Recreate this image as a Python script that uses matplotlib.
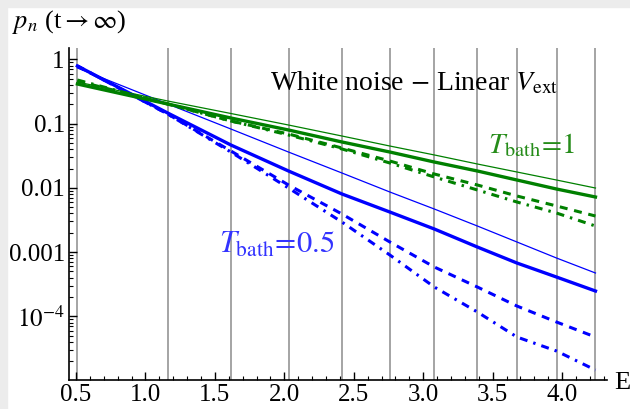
import matplotlib
matplotlib.use("Agg")
import matplotlib.pyplot as plt
from matplotlib.ticker import FixedLocator, NullFormatter, LogLocator
from matplotlib.patches import Rectangle

plt.rcParams['font.family'] = ['Liberation Serif', 'DejaVu Serif']
plt.rcParams['mathtext.fontset'] = 'stix'

# Energy levels (vertical lines and sample points)
energies = [0.51, 1.16, 1.615, 2.03, 2.415, 2.76, 3.08, 3.39, 3.675, 3.96, 4.24]

# T_bath = 0.5 (blue)
blue_thin = [0.737, 0.203, 0.0827, 0.0362, 0.01706, 0.00863, 0.00469, 0.00255, 0.001437, 8.09e-4, 4.73e-4]
blue_thick = [0.792, 0.1468, 0.0466, 0.01834, 0.00804, 0.00421, 0.00229, 0.0012, 6.76e-4, 4.09e-4, 2.48e-4]
blue_dashed = [0.792, 0.1416, 0.0376, 0.0111, 0.00392, 0.001437, 5.86e-4, 2.86e-4, 1.446e-4, 8.15e-5, 4.76e-5]
blue_dashdot = [0.792, 0.1416, 0.0362, 0.00996, 0.00294, 9.01e-4, 2.86e-4, 1.167e-4, 4.76e-5, 2.88e-5, 1.458e-5]

# T_bath = 1 (green)
green_thin = [0.446, 0.2258, 0.1442, 0.0954, 0.0643, 0.0449, 0.0326, 0.02357, 0.01769, 0.01327, 0.00996]
green_thick = [0.4153, 0.2028, 0.1227, 0.0798, 0.0519, 0.0362, 0.0253, 0.01834, 0.01327, 0.00961, 0.00722]
green_dashed = [0.4625, 0.2028, 0.1102, 0.0691, 0.0418, 0.02624, 0.01646, 0.0111, 0.00748, 0.00523, 0.00365]
green_dashdot = [0.4794, 0.2028, 0.1102, 0.0667, 0.0404, 0.02443, 0.01478, 0.00928, 0.00603, 0.00406, 0.00255]

x_ticks = [0.5, 1.0, 1.5, 2.0, 2.5, 3.0, 3.5, 4.0]
x_tick_labels = ["0.5", "1.0", "1.5", "2.0", "2.5", "3.0", "3.5", "4.0"]
y_ticks = [1, 0.1, 0.01, 0.001, 1e-4]
y_tick_labels = ["1", "0.1", "0.01", "0.001", r"$10^{-4}$"]

BLUE = (0.0, 0.0, 1.0)
GREEN = (0.0, 0.5, 0.0)

fig = plt.figure(figsize=(6.30, 4.09), dpi=100)
fig.patch.set_facecolor('white')
# light gray screenshot border
fig.patches.append(Rectangle((0, 0), 7/630, 1, transform=fig.transFigure, color='#ececec', zorder=-10))
fig.patches.append(Rectangle((0, 1-7/409), 1, 7/409, transform=fig.transFigure, color='#ececec', zorder=-10))

ax = fig.add_axes([69/630, 1-380/409, (607-69)/630, (380-48)/409])
ax.set_yscale('log')
ax.set_xlim(0.4496, 4.323)
ax.set_ylim(1.02e-5, 1.51)

for e in energies:
    ax.axvline(e, color='#8c8c8c', lw=1.1, zorder=1)

dash = (0, (2.6, 2.2))
dashdot = (0, (2.6, 2.0, 0.8, 2.0))

ax.plot(energies, blue_thin, color=BLUE, lw=0.9, zorder=3)
ax.plot(energies, blue_thick, color=BLUE, lw=2.4, zorder=3)
ax.plot(energies, blue_dashed, color=BLUE, lw=2.2, linestyle=dash, zorder=3)
ax.plot(energies, blue_dashdot, color=BLUE, lw=2.2, linestyle=dashdot, zorder=3)

ax.plot(energies, green_thin, color=GREEN, lw=0.9, zorder=3)
ax.plot(energies, green_thick, color=GREEN, lw=2.4, zorder=3)
ax.plot(energies, green_dashed, color=GREEN, lw=2.2, linestyle=dash, zorder=3)
ax.plot(energies, green_dashdot, color=GREEN, lw=2.2, linestyle=dashdot, zorder=3)

for s in ['top', 'right']:
    ax.spines[s].set_visible(False)
ax.spines['left'].set_linewidth(1.2)
ax.spines['bottom'].set_linewidth(1.2)

ax.set_xticks(x_ticks)
ax.set_xticklabels(x_tick_labels)
ax.xaxis.set_minor_locator(FixedLocator([0.5 + 0.1*i for i in range(39) if i % 5 != 0]))
ax.set_yticks(y_ticks)
ax.set_yticklabels(y_tick_labels)
ax.yaxis.set_minor_locator(LogLocator(base=10, subs=range(2, 10)))
ax.yaxis.set_minor_formatter(NullFormatter())

ax.tick_params(axis='both', which='major', direction='in', length=6, width=1.0, labelsize=18, pad=3)
ax.tick_params(axis='both', which='minor', direction='in', length=3, width=0.8)

fig.text(414/630, 1-83/409, r"White noise $-$ Linear $V_{\rm ext}$",
         fontsize=20, ha='center', va='center')
fig.text(532/630, 1-145/409, r"$T_{\rm bath}\!=\!1$",
         fontsize=21, color=(0.15, 0.55, 0.1), ha='center', va='center')
fig.text(277/630, 1-245/409, r"$T_{\rm bath}\!=\!0.5$",
         fontsize=22, color=(0.2, 0.2, 1.0), ha='center', va='center')

fig.text(12/630, 1-22/409, r"$p_n$ (t$\rightarrow\infty$)", fontsize=19, ha='left', va='center')
fig.text(614/630, 1-383/409, "E", fontsize=19, ha='left', va='center')

fig.savefig("out.png", dpi=100, facecolor=fig.get_facecolor())
